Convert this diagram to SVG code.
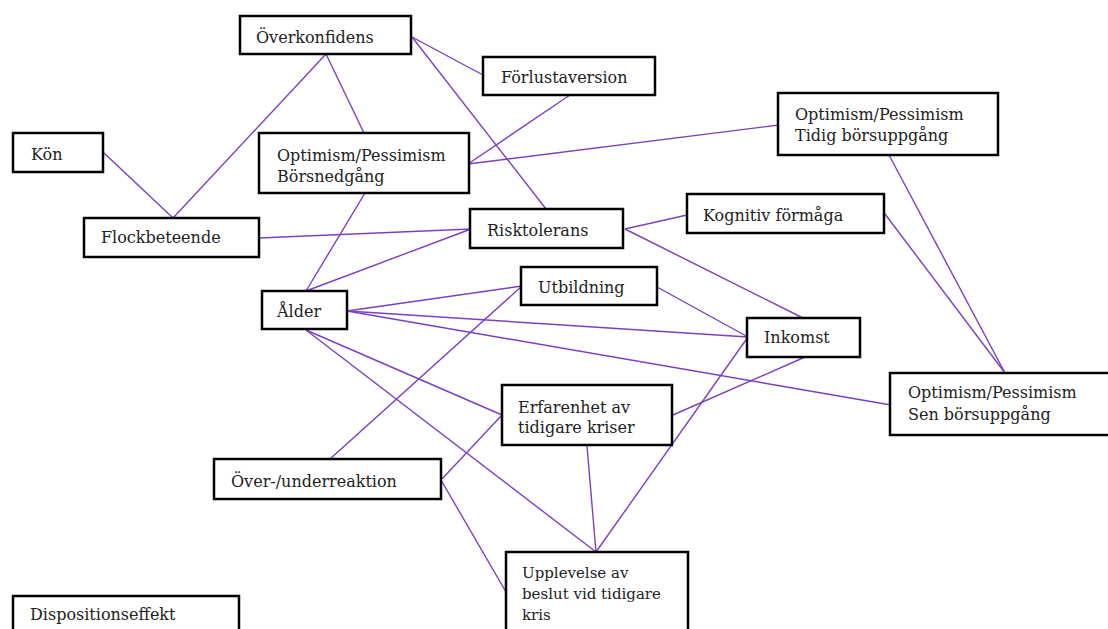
<svg xmlns="http://www.w3.org/2000/svg" width="1108" height="629" viewBox="0 0 1108 629">
<style>
.box{fill:#fff;stroke:#000;stroke-width:2.5}
.t{font-family:"DejaVu Serif","Liberation Serif",serif;font-size:16px;fill:#222}
.t2{font-family:"DejaVu Serif","Liberation Serif",serif;font-size:15px;fill:#222}
.c line{stroke:#7a40c2;stroke-width:1.4}
</style>
<rect width="1108" height="629" fill="#fff"/>
<g id="connectors" class="c">
<line x1="326" y1="54" x2="173" y2="218"/>
<line x1="326" y1="54" x2="364" y2="133"/>
<line x1="104" y1="153" x2="173" y2="218"/>
<line x1="412" y1="37" x2="483" y2="75"/>
<line x1="412" y1="37" x2="546" y2="209"/>
<line x1="570" y1="95" x2="468" y2="164"/>
<line x1="468" y1="164" x2="779" y2="125"/>
<line x1="365" y1="193" x2="306" y2="291"/>
<line x1="259" y1="238" x2="471" y2="229"/>
<line x1="471" y1="229" x2="306" y2="291"/>
<line x1="625" y1="229" x2="687" y2="215"/>
<line x1="625" y1="229" x2="803" y2="318"/>
<line x1="889" y1="155" x2="1005" y2="373"/>
<line x1="885" y1="214" x2="1005" y2="373"/>
<line x1="347" y1="311" x2="522" y2="286"/>
<line x1="347" y1="311" x2="748" y2="337"/>
<line x1="347" y1="311" x2="891" y2="405"/>
<line x1="306" y1="330" x2="502" y2="415"/>
<line x1="306" y1="330" x2="596" y2="552"/>
<line x1="522" y1="286" x2="330" y2="459"/>
<line x1="657" y1="287" x2="748" y2="337"/>
<line x1="748" y1="337" x2="596" y2="552"/>
<line x1="805" y1="357" x2="673" y2="415"/>
<line x1="587" y1="446" x2="596" y2="552"/>
<line x1="502" y1="415" x2="441" y2="480"/>
<line x1="441" y1="480" x2="506" y2="592"/>
</g>
<g id="overkonfidens"><rect class="box" x="240" y="16" width="171" height="38"/><text class="t" x="256" y="43">Överkonfidens</text></g>
<g id="kon"><rect class="box" x="13" y="133" width="90" height="39"/><text class="t" x="31" y="160">Kön</text></g>
<g id="borsnedgang"><rect class="box" x="259" y="133" width="210" height="60"/><text class="t" x="277" y="161">Optimism/Pessimism</text><text class="t" x="277" y="182">Börsnedgång</text></g>
<g id="flockbeteende"><rect class="box" x="84" y="218" width="175" height="39"/><text class="t" x="101" y="243">Flockbeteende</text></g>
<g id="forlustaversion"><rect class="box" x="483" y="57" width="172" height="38"/><text class="t" x="501" y="83">Förlustaversion</text></g>
<g id="tidig"><rect class="box" x="778" y="93" width="220" height="62"/><text class="t" x="795" y="120">Optimism/Pessimism</text><text class="t" x="795" y="141">Tidig börsuppgång</text></g>
<g id="risktolerans"><rect class="box" x="470" y="209" width="153" height="39"/><text class="t" x="487" y="236">Risktolerans</text></g>
<g id="kognitiv"><rect class="box" x="687" y="194" width="197" height="39"/><text class="t" x="703" y="221">Kognitiv förmåga</text></g>
<g id="alder"><rect class="box" x="262" y="291" width="85" height="38"/><text class="t" x="277" y="317">Ålder</text></g>
<g id="utbildning"><rect class="box" x="521" y="267" width="136" height="38"/><text class="t" x="538" y="293">Utbildning</text></g>
<g id="inkomst"><rect class="box" x="747" y="318" width="113" height="39"/><text class="t" x="764" y="343">Inkomst</text></g>
<g id="sen"><rect class="box" x="890" y="373" width="222" height="62"/><text class="t" x="908" y="398">Optimism/Pessimism</text><text class="t" x="908" y="420">Sen börsuppgång</text></g>
<g id="erfarenhet"><rect class="box" x="502" y="385" width="170" height="60"/><text class="t" x="518" y="413">Erfarenhet av</text><text class="t" x="518" y="433">tidigare kriser</text></g>
<g id="overreaktion"><rect class="box" x="214" y="459" width="227" height="40"/><text class="t" x="231" y="487">Över-/underreaktion</text></g>
<g id="upplevelse"><rect class="box" x="506" y="552" width="182" height="90"/><text class="t2" x="522" y="578">Upplevelse av</text><text class="t2" x="522" y="599">beslut vid tidigare</text><text class="t2" x="522" y="620">kris</text></g>
<g id="dispositionseffekt"><rect class="box" x="13" y="596" width="226" height="50"/><text class="t" x="30" y="620">Dispositionseffekt</text></g>
</svg>
